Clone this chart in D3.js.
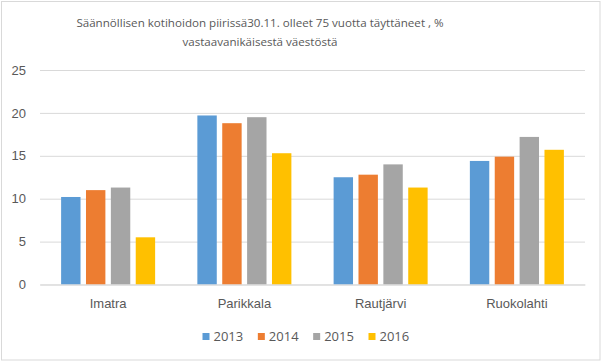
<!DOCTYPE html>
<html>
<head>
<meta charset="utf-8">
<script src="https://cdn.jsdelivr.net/npm/d3@7"></script>
<style>
  body { margin: 0; background: #fff; }
  svg { display: block; font-family: "Open Sans", "Liberation Sans", sans-serif; }
</style>
</head>
<body>
<svg id="chart" width="605" height="362"></svg>
<script>
// data
const municipalities = ['Imatra', 'Parikkala', 'Rautjärvi', 'Ruokolahti'];
const years = ['2013', '2014', '2015', '2016'];
const v2013 = [10.2, 19.7, 12.5, 14.4];
const v2014 = [11.0, 18.8, 12.8, 14.9];
const v2015 = [11.3, 19.5, 14.0, 17.2];
const v2016 = [5.5, 15.3, 11.3, 15.7];
const yTicks = [0, 5, 10, 15, 20, 25];
const titleLines = [
  'Säännöllisen kotihoidon piirissä30.11. olleet 75 vuotta täyttäneet , %',
  'vastaavanikäisestä väestöstä'
];

const seriesValues = [v2013, v2014, v2015, v2016];
const colors = ['#5B9BD5', '#ED7D31', '#A5A5A5', '#FFC000'];

const svg = d3.select('#chart');
const margin = { left: 40, right: 20, top: 70, bottom: 77.5 };
const width = 605, height = 362;

// outer frame
svg.append('rect')
  .attr('x', 1.5).attr('y', 1.5)
  .attr('width', 598.5).attr('height', 358.5)
  .attr('fill', '#fff')
  .attr('stroke', '#d9d9d9');

const x0 = d3.scaleBand()
  .domain(municipalities)
  .range([margin.left, width - margin.right])
  .paddingInner(0.31)
  .paddingOuter(0.155);

const x1 = d3.scaleBand()
  .domain(years)
  .range([0, x0.bandwidth()])
  .paddingInner(0.22)
  .paddingOuter(0);

const y = d3.scaleLinear()
  .domain([0, 25])
  .range([height - margin.bottom, margin.top]);

// gridlines + y labels
const yAxis = d3.axisLeft(y)
  .tickValues(yTicks)
  .tickSize(-(width - margin.left - margin.right))
  .tickPadding(14);

svg.append('g')
  .attr('transform', `translate(${margin.left},0)`)
  .call(yAxis)
  .call(g => g.select('.domain').remove())
  .call(g => g.selectAll('.tick line').attr('stroke', '#d9d9d9').attr('stroke-width', 1))
  .call(g => g.selectAll('.tick text').attr('fill', '#595959').attr('font-size', 13));

// bars
const groups = svg.append('g')
  .selectAll('g')
  .data(municipalities)
  .join('g')
  .attr('transform', d => `translate(${x0(d)},0)`);

groups.selectAll('rect')
  .data((d, i) => years.map((yr, j) => ({ yr, value: seriesValues[j][i], color: colors[j] })))
  .join('rect')
  .attr('x', d => x1(d.yr))
  .attr('width', x1.bandwidth())
  .attr('y', d => y(d.value))
  .attr('height', d => y(0) - y(d.value))
  .attr('fill', d => d.color);

// x axis
const xAxis = d3.axisBottom(x0).tickSize(0).tickPadding(14);
svg.append('g')
  .attr('transform', `translate(0,${y(0)})`)
  .call(xAxis)
  .call(g => g.select('.domain').attr('stroke', '#d9d9d9'))
  .call(g => g.selectAll('.tick text').attr('fill', '#595959').attr('font-size', 13));

// title
svg.append('text')
  .attr('x', 260)
  .attr('y', 27)
  .attr('text-anchor', 'middle')
  .attr('fill', '#595959')
  .attr('font-size', 11.6)
  .selectAll('tspan')
  .data(titleLines)
  .join('tspan')
  .attr('x', 260)
  .attr('dy', (d, i) => i === 0 ? 0 : 19)
  .text(d => d);

// legend
const legendX = d3.scalePoint().domain(years).range([202.5, 368.5]);
const legend = svg.append('g')
  .selectAll('g')
  .data(years)
  .join('g')
  .attr('transform', d => `translate(${legendX(d)},${333})`);

legend.append('rect')
  .attr('width', 7).attr('height', 7)
  .attr('fill', (d, i) => colors[i]);

legend.append('text')
  .attr('x', 11)
  .attr('y', 8)
  .attr('fill', '#595959')
  .attr('font-size', 13)
  .text(d => d);
</script>
</body>
</html>
